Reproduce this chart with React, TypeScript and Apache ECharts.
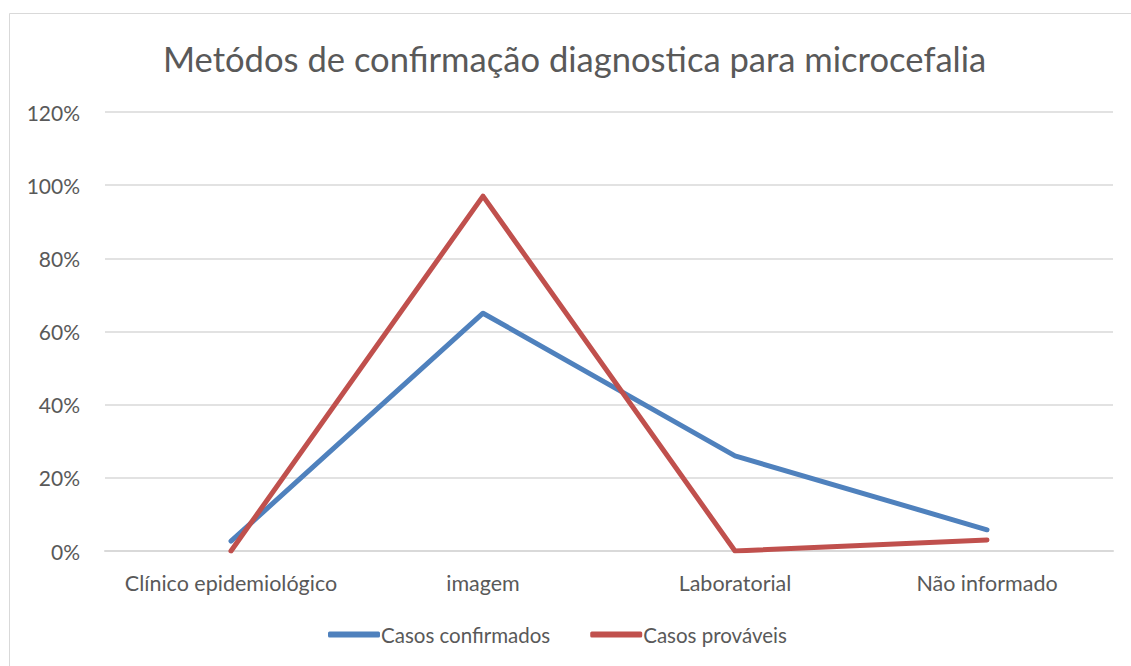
import React, { useEffect, useRef } from "react";
import * as echarts from "echarts";

const categories = ["Clínico epidemiológico", "imagem", "Laboratorial", "Não informado"];
const confirmados = [0.027, 0.65, 0.26, 0.058];
const provaveis = [0, 0.97, 0, 0.03];
const titleText = "Metódos de confirmação diagnostica para microcefalia";

export default function App() {
  const ref = useRef<HTMLDivElement>(null);
  useEffect(() => {
    const chart = echarts.init(ref.current!, null, { renderer: "svg" });
    const font = "Lato, 'Open Sans', sans-serif";
    chart.setOption({
      animation: false,
      backgroundColor: "#ffffff",
      title: {
        text: titleText,
        left: 158,
        top: 36,
        textStyle: { fontFamily: font, fontSize: 34.6, fontWeight: "normal", color: "#595959" },
      },
      graphic: [
        {
          type: "rect",
          shape: { x: 9.5, y: 13.5, width: 1130, height: 660 },
          style: { fill: "none", stroke: "#d9d9d9", lineWidth: 1 },
          silent: true,
        },
      ],
      legend: {
        bottom: 16,
        left: 323,
        itemWidth: 52,
        itemHeight: 6,
        itemGap: 40,
        icon: "roundRect",
        textStyle: { fontFamily: font, fontSize: 20.5, color: "#595959", padding: [0, 0, 0, -4] },
        data: ["Casos confirmados", "Casos prováveis"],
      },
      grid: { left: 105, right: 18, top: 112, bottom: 115 },
      xAxis: {
        type: "category",
        data: categories,
        boundaryGap: true,
        axisLine: { show: true, lineStyle: { color: "#d9d9d9", width: 2 } },
        axisTick: { show: false },
        axisLabel: { fontFamily: font, fontSize: 21.5, color: "#595959", margin: 21, interval: 0 },
      },
      yAxis: {
        type: "value",
        min: 0,
        max: 1.2,
        interval: 0.2,
        axisLine: { show: false },
        axisTick: { show: false },
        splitLine: { lineStyle: { color: "#d9d9d9", width: 1.5 } },
        axisLabel: {
          fontFamily: font,
          fontSize: 21,
          color: "#595959",
          margin: 25,
          formatter: (v: number) => Math.round(v * 100) + "%",
        },
      },
      series: [
        {
          name: "Casos confirmados",
          type: "line",
          data: confirmados,
          symbol: "none",
          color: "#4F81BD",
          lineStyle: { width: 5, color: "#4F81BD", cap: "round", join: "round" },
        },
        {
          name: "Casos prováveis",
          type: "line",
          data: provaveis,
          symbol: "none",
          color: "#C0504D",
          lineStyle: { width: 5, color: "#C0504D", cap: "round", join: "round" },
        },
      ],
    });
    return () => chart.dispose();
  }, []);
  return (
    <div
      ref={ref}
      style={{ position: "absolute", left: 0, top: 0, width: 1131, height: 666 }}
    />
  );
}
